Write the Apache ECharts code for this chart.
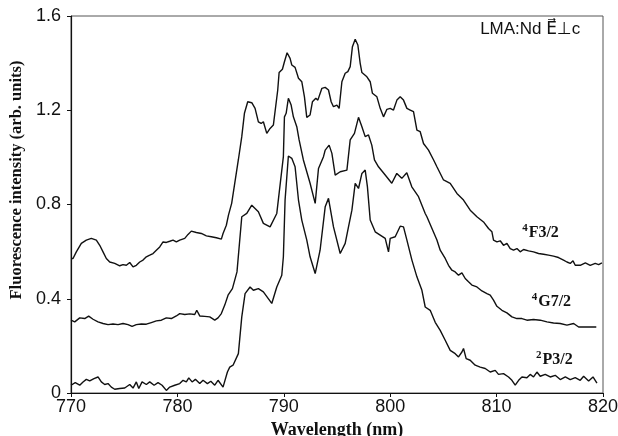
<!DOCTYPE html>
<html><head><meta charset="utf-8">
<script src="https://cdn.jsdelivr.net/npm/echarts@6/dist/echarts.min.js"></script>
<style>html,body{margin:0;padding:0;background:#fff}#c{width:618px;height:436px}</style>
</head><body><div id="c"></div>
<script>
// 4F3/2 (top curve)
var wlF = [770.0,770.19,770.5,770.97,771.44,771.91,772.07,772.38,772.7,773.01,773.32,773.64,774.11,774.58,774.89,775.2,775.52,775.83,776.14,776.46,776.77,777.08,777.4,777.71,778.02,778.34,778.65,778.96,779.28,779.59,779.9,780.22,780.69,781.0,781.31,781.78,782.25,782.72,783.19,783.66,784.13,784.29,784.6,784.8,785.1,785.73,786.05,786.3,786.61,786.99,787.3,787.61,787.87,788.08,788.4,788.71,789.02,789.18,789.43,789.56,789.87,790.06,790.31,790.59,790.75,791.06,791.38,791.69,791.94,792.16,792.47,792.69,793.01,793.2,793.58,793.89,794.2,794.45,794.67,794.99,795.2,795.46,795.77,796.02,796.24,796.45,796.71,796.96,797.18,797.34,797.81,798.12,798.33,798.75,799.06,799.37,799.69,800.0,800.31,800.63,800.94,801.25,801.57,801.88,802.19,802.51,802.82,803.13,803.6,804.08,804.39,805.01,805.64,806.27,806.89,807.52,808.15,808.77,809.24,809.56,809.71,810.03,810.34,810.65,810.97,811.28,811.59,811.91,812.22,812.53,813.0,813.47,813.94,814.41,814.88,815.35,815.82,816.29,816.61,816.92,817.18,817.39,817.86,818.34,818.8,819.27,819.59,819.9];
var valF = [0.571,0.571,0.599,0.635,0.649,0.656,0.663,0.649,0.627,0.599,0.571,0.556,0.55,0.54,0.545,0.542,0.554,0.535,0.542,0.556,0.564,0.578,0.585,0.592,0.606,0.62,0.641,0.639,0.644,0.649,0.641,0.649,0.656,0.673,0.687,0.681,0.677,0.667,0.663,0.659,0.653,0.677,0.712,0.755,0.805,0.99,1.088,1.187,1.236,1.232,1.208,1.151,1.144,1.151,1.102,1.123,1.137,1.137,1.286,1.36,1.374,1.406,1.444,1.42,1.392,1.382,1.336,1.321,1.257,1.17,1.18,1.236,1.251,1.243,1.293,1.297,1.286,1.236,1.215,1.222,1.208,1.321,1.357,1.364,1.385,1.47,1.501,1.477,1.399,1.36,1.342,1.321,1.272,1.257,1.208,1.172,1.204,1.208,1.201,1.243,1.257,1.243,1.208,1.201,1.194,1.116,1.109,1.059,1.031,0.989,0.96,0.904,0.89,0.847,0.819,0.776,0.748,0.726,0.698,0.684,0.649,0.641,0.646,0.627,0.635,0.613,0.606,0.613,0.599,0.609,0.603,0.599,0.592,0.589,0.585,0.581,0.575,0.564,0.556,0.55,0.561,0.542,0.542,0.552,0.542,0.55,0.545,0.552];
// 4G7/2 (middle curve)
var wlG = [770.0,770.35,770.82,771.29,771.66,772.07,772.54,773.01,773.48,773.95,774.42,774.89,775.36,775.74,776.14,776.61,777.08,777.55,778.02,778.49,778.96,779.43,779.9,780.22,780.69,781.16,781.63,781.82,782.1,782.57,783.04,783.51,783.82,784.13,784.45,784.76,785.17,785.6,786.05,786.52,786.99,787.14,787.61,788.08,788.71,788.87,789.34,789.96,790.06,790.22,790.43,790.69,790.9,791.22,791.44,791.84,792.47,792.95,793.26,793.73,793.89,794.26,794.52,794.83,795.3,795.93,796.24,796.64,797.02,797.34,797.65,797.96,798.27,798.52,798.9,799.53,800.15,800.62,801.09,801.56,802.03,802.66,803.29,803.45,804.39,804.7,805.17,805.48,805.8,806.11,806.42,806.74,807.05,807.36,807.68,808.15,808.62,809.09,809.4,809.71,810.03,810.5,810.97,811.44,811.91,812.38,812.85,813.47,814.1,814.73,815.35,815.98,816.61,817.24,817.71,818.49,819.37];
var valG = [0.309,0.302,0.319,0.316,0.326,0.313,0.302,0.295,0.29,0.293,0.29,0.295,0.29,0.283,0.29,0.293,0.292,0.299,0.306,0.309,0.319,0.316,0.327,0.337,0.333,0.336,0.333,0.351,0.327,0.325,0.323,0.309,0.319,0.337,0.373,0.415,0.443,0.514,0.748,0.762,0.797,0.79,0.769,0.72,0.705,0.698,0.762,1.003,1.172,1.187,1.251,1.222,1.172,1.13,1.074,0.989,0.89,0.805,0.953,1.003,1.031,1.052,1.017,0.925,0.939,0.946,1.074,1.102,1.17,1.13,1.088,1.095,1.052,0.989,0.96,0.925,0.89,0.932,0.911,0.935,0.875,0.833,0.762,0.748,0.649,0.606,0.571,0.542,0.521,0.514,0.5,0.51,0.486,0.472,0.458,0.45,0.433,0.422,0.415,0.394,0.368,0.351,0.34,0.323,0.316,0.316,0.309,0.312,0.309,0.302,0.297,0.295,0.288,0.295,0.28,0.28,0.28];
// 2P3/2 (bottom curve)
var wlP = [770.0,770.4,770.82,771.13,771.44,771.76,772.16,772.54,772.85,773.17,773.48,773.79,774.11,774.58,775.05,775.52,775.83,776.14,776.37,776.68,777.08,777.4,777.81,778.18,778.56,778.96,779.28,779.75,780.22,780.53,780.84,781.07,781.38,781.69,782.1,782.41,782.82,783.14,783.51,783.82,784.29,784.7,784.92,785.23,785.73,786.05,786.36,786.83,787.14,787.61,788.08,788.87,789.34,789.81,789.96,790.12,790.43,790.75,791.06,791.38,791.69,792.16,792.47,792.95,793.41,793.89,794.2,794.67,795.3,795.77,796.08,796.4,796.71,797.02,797.34,797.65,797.86,798.12,798.59,799.06,799.53,799.84,800.0,800.47,800.94,801.25,801.57,802.04,802.51,802.98,803.29,803.76,804.23,804.7,805.17,805.64,806.11,806.42,806.74,806.89,807.14,807.52,807.99,808.46,808.93,809.4,809.87,810.18,810.65,811.12,811.44,811.75,812.07,812.38,812.85,813.16,813.47,813.79,814.1,814.57,815.04,815.51,815.98,816.46,816.92,817.39,817.86,818.18,818.65,819.06,819.43];
var valP = [0.033,0.044,0.033,0.047,0.058,0.051,0.061,0.068,0.047,0.036,0.04,0.025,0.016,0.019,0.021,0.036,0.021,0.047,0.019,0.047,0.036,0.047,0.033,0.044,0.033,0.011,0.025,0.033,0.04,0.054,0.047,0.064,0.047,0.058,0.04,0.054,0.04,0.05,0.033,0.054,0.025,0.089,0.11,0.118,0.167,0.323,0.422,0.45,0.436,0.443,0.429,0.38,0.45,0.50,0.578,0.819,1.006,0.996,0.96,0.819,0.734,0.649,0.578,0.507,0.606,0.79,0.826,0.705,0.592,0.635,0.705,0.776,0.89,0.868,0.932,0.946,0.875,0.734,0.684,0.67,0.656,0.599,0.656,0.663,0.708,0.705,0.649,0.564,0.493,0.436,0.365,0.351,0.3,0.266,0.224,0.181,0.167,0.153,0.174,0.189,0.146,0.139,0.118,0.11,0.104,0.089,0.096,0.079,0.082,0.068,0.054,0.033,0.054,0.068,0.065,0.079,0.068,0.089,0.071,0.079,0.068,0.075,0.057,0.068,0.057,0.065,0.054,0.071,0.051,0.068,0.042];
var yTicks = [0, 0.4, 0.8, 1.2, 1.6];
var xTicks = [770, 780, 790, 800, 810, 820];
var seriesNames = ['4F3/2', '4G7/2', '2P3/2'];
var labelPos = [[812.4, 0.683], [813.3, 0.39], [813.7, 0.147]];
var labelSup = ['4', '4', '2'];
var labelMain = ['F3/2', 'G7/2', 'P3/2'];

function zip(a, b) { return a.map(function (x, i) { return [x, b[i]]; }); }

var chart = echarts.init(document.getElementById('c'));
var lineStyle = { color: '#111', width: 1.4 };
var option = {
  animation: false,
  backgroundColor: '#fff',
  grid: { left: 71, right: 15, top: 16, bottom: 43, show: true, borderColor: '#555', borderWidth: 1,
    containLabel: false, outerBoundsMode: 'none' },
  xAxis: {
    type: 'value', min: xTicks[0], max: xTicks[xTicks.length - 1], interval: 10,
    name: 'Wavelength (nm)', nameLocation: 'middle', nameGap: 26,
    nameTextStyle: { fontFamily: 'Liberation Serif', fontWeight: 'bold', fontSize: 18, color: '#111' },
    axisLine: { lineStyle: { color: '#111', width: 1.2 } },
    axisTick: { inside: false, length: 4, lineStyle: { color: '#111' } },
    axisLabel: { fontFamily: 'Liberation Sans', fontSize: 18, color: '#111', margin: 5 },
    splitLine: { show: false }
  },
  yAxis: {
    type: 'value', min: yTicks[0], max: yTicks[yTicks.length - 1], interval: 0.4,
    name: 'Fluorescence intensity (arb. units)', nameLocation: 'middle', nameGap: 43,
    nameTextStyle: { fontFamily: 'Liberation Serif', fontWeight: 'bold', fontSize: 16.5, color: '#111', padding: [0, 0, 0, 49] },
    axisLine: { lineStyle: { color: '#111', width: 1.2 } },
    axisTick: { inside: false, length: 4, lineStyle: { color: '#111' } },
    axisLabel: { fontFamily: 'Liberation Sans', fontSize: 18, color: '#111', margin: 10,
      formatter: function (v) { return String(Math.round(v * 10) / 10); } },
    splitLine: { show: false }
  },
  series: [
    { name: seriesNames[0], type: 'line', data: zip(wlF, valF), showSymbol: false, symbol: 'none', lineStyle: lineStyle },
    { name: seriesNames[1], type: 'line', data: zip(wlG, valG), showSymbol: false, symbol: 'none', lineStyle: lineStyle },
    { name: seriesNames[2], type: 'line', data: zip(wlP, valP), showSymbol: false, symbol: 'none', lineStyle: lineStyle }
  ]
};
chart.setOption(option);

var graphics = [];
labelPos.forEach(function (p, i) {
  var px = chart.convertToPixel({ gridIndex: 0 }, p);
  graphics.push({
    type: 'text', left: px[0], top: px[1] - 9,
    style: {
      text: '{s|' + labelSup[i] + '}{m|' + labelMain[i] + '}',
      rich: {
        s: { fontFamily: 'Liberation Serif', fontWeight: 'bold', fontSize: 11, fill: '#111', verticalAlign: 'top', padding: [0, 1, 7, 0] },
        m: { fontFamily: 'Liberation Serif', fontWeight: 'bold', fontSize: 16, fill: '#111', verticalAlign: 'bottom' }
      }
    }
  });
});
var tp = chart.convertToPixel({ gridIndex: 0 }, [817.87, 1.56]);
graphics.push({
  type: 'text', right: 618 - tp[0], top: tp[1] - 5,
  style: { text: 'LMA:Nd E\u20D7\u22A5c', fontFamily: 'Liberation Sans, DejaVu Sans', fontSize: 17, fill: '#111' }
});
chart.setOption({ graphic: graphics });
</script>
</body></html>
